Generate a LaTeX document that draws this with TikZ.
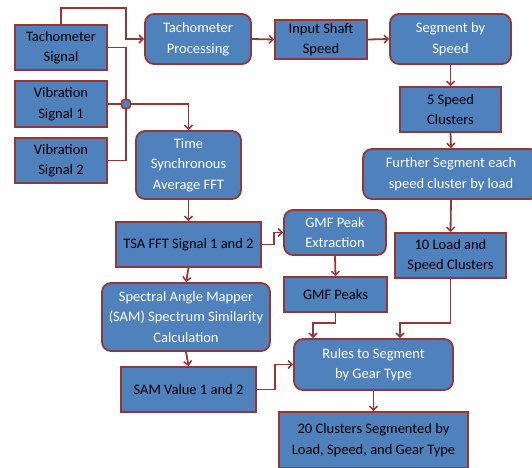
\documentclass[tikz,border=0pt]{standalone}
\usepackage{fontspec}
\setmainfont{Carlito}
\usetikzlibrary{arrows.meta}
\definecolor{boxblue}{RGB}{79,129,189}
\definecolor{boxred}{RGB}{149,55,53}
\begin{document}
\begin{tikzpicture}[x=1pt,y=-1pt,
  base/.style={draw=boxred, line width=1.8pt, fill=boxblue, align=center, inner sep=2pt,
    font=\fontsize{14.5}{20.5}\selectfont},
  sqbox/.style={base, text=black},
  rdbox/.style={base, rounded corners=9pt, text=white},
  arr/.style={draw=boxred, line width=1.8pt, -{Straight Barb[length=4pt,width=8pt,line width=1.5pt]}},
  ln/.style={draw=boxred, line width=1.8pt}
]
\useasboundingbox (0,0) rectangle (532,467);
\clip (0,0) rectangle (532,467);
% nodes
\node[sqbox, minimum width=92pt, minimum height=45pt] (tach) at (61,47.5) {Tachometer\\Signal};
\node[sqbox, minimum width=92pt, minimum height=46pt] (vib1) at (61,104) {Vibration\\Signal 1};
\node[sqbox, minimum width=92pt, minimum height=45pt] (vib2) at (61,160.5) {Vibration\\Signal 2};
\node[rdbox, minimum width=106pt, minimum height=50pt] (tproc) at (198,39) {Tachometer\\Processing};
\node[rdbox, minimum width=105pt, minimum height=68pt] (tsa) at (188.5,165) {Time\\Synchronous\\Average FFT};
\node[sqbox, minimum width=92pt, minimum height=39pt] (shaft) at (321,39.5) {Input Shaft\\Speed};
\node[rdbox, minimum width=121pt, minimum height=50pt] (segspd) at (450.5,39) {Segment by\\Speed};
\node[sqbox, minimum width=101pt, minimum height=45pt] (spd5) at (450.5,109.5) {5 Speed\\Clusters};
\node[rdbox, minimum width=176pt, minimum height=50pt] (further) at (451,174) {Further Segment each\\speed cluster by load};
\node[sqbox, minimum width=145pt, minimum height=45pt] (tsafft) at (188.5,244.5) {TSA FFT Signal 1 and 2};
\node[rdbox, minimum width=168pt, minimum height=68pt] (sam) at (186,317) {Spectral Angle Mapper\\(SAM) Spectrum Similarity\\Calculation};
\node[sqbox, minimum width=135pt, minimum height=45pt] (samv) at (188.5,389.5) {SAM Value 1 and 2};
\node[rdbox, minimum width=102pt, minimum height=45pt] (gmfx) at (335,232.5) {GMF Peak\\Extraction};
\node[sqbox, minimum width=103pt, minimum height=35pt] (gmfp) at (335.5,294.5) {GMF Peaks};
\node[sqbox, minimum width=111pt, minimum height=45pt] (load10) at (450.5,255.5) {10 Load and\\Speed Clusters};
\node[rdbox, minimum width=159pt, minimum height=51pt] (rules) at (373.5,364.5) {Rules to Segment\\by Gear Type};
\node[sqbox, minimum width=189pt, minimum height=56pt] (c20) at (373.5,440) {20 Clusters Segmented by\\Load, Speed, and Gear Type};
% helper coordinates
\coordinate (j1) at (126,8);
\coordinate (jn) at (126,104);
\coordinate (g1) at (313,323);
\coordinate (g2) at (400,323);
% connectors
\draw[arr] (tach.north) |- (j1) |- (tproc.west);
\draw[ln] (tach.east) -| (jn);
\draw[ln] (vib2.east) -| (jn);
\draw[ln] (vib1.east) -- (jn);
\draw[arr] (jn) -| (tsa.north);
\node[circle, draw=boxred, line width=1.6pt, fill=boxblue, minimum size=10pt, inner sep=0pt] (junc) at (jn) {};
\draw[arr] (tproc.east) -- (shaft.west);
\draw[arr] (shaft.east) -- (segspd.west);
\draw[arr] (segspd.south) -- (spd5.north);
\draw[arr] (spd5.south) -- (further.north);
\draw[arr] (further.south) -- (load10.north);
\draw[arr] (tsa.south) -- (tsafft.north);
\draw[arr] (tsafft.south) -- (sam.north);
\draw[arr] (sam.south) -- (samv.north);
\draw[arr] (tsafft.east) -- ++(12,0) |- (gmfx.west);
\draw[arr] (gmfx.south) -- (gmfp.north);
\draw[arr] (gmfp.south) |- (g1) -- (g1 |- rules.north);
\draw[arr] (load10.south) |- (g2) -- (g2 |- rules.north);
\draw[arr] (samv.east) -- ++(18,0) |- (rules.west);
\draw[arr] (rules.south) -- (c20.north);
\end{tikzpicture}
\end{document}
